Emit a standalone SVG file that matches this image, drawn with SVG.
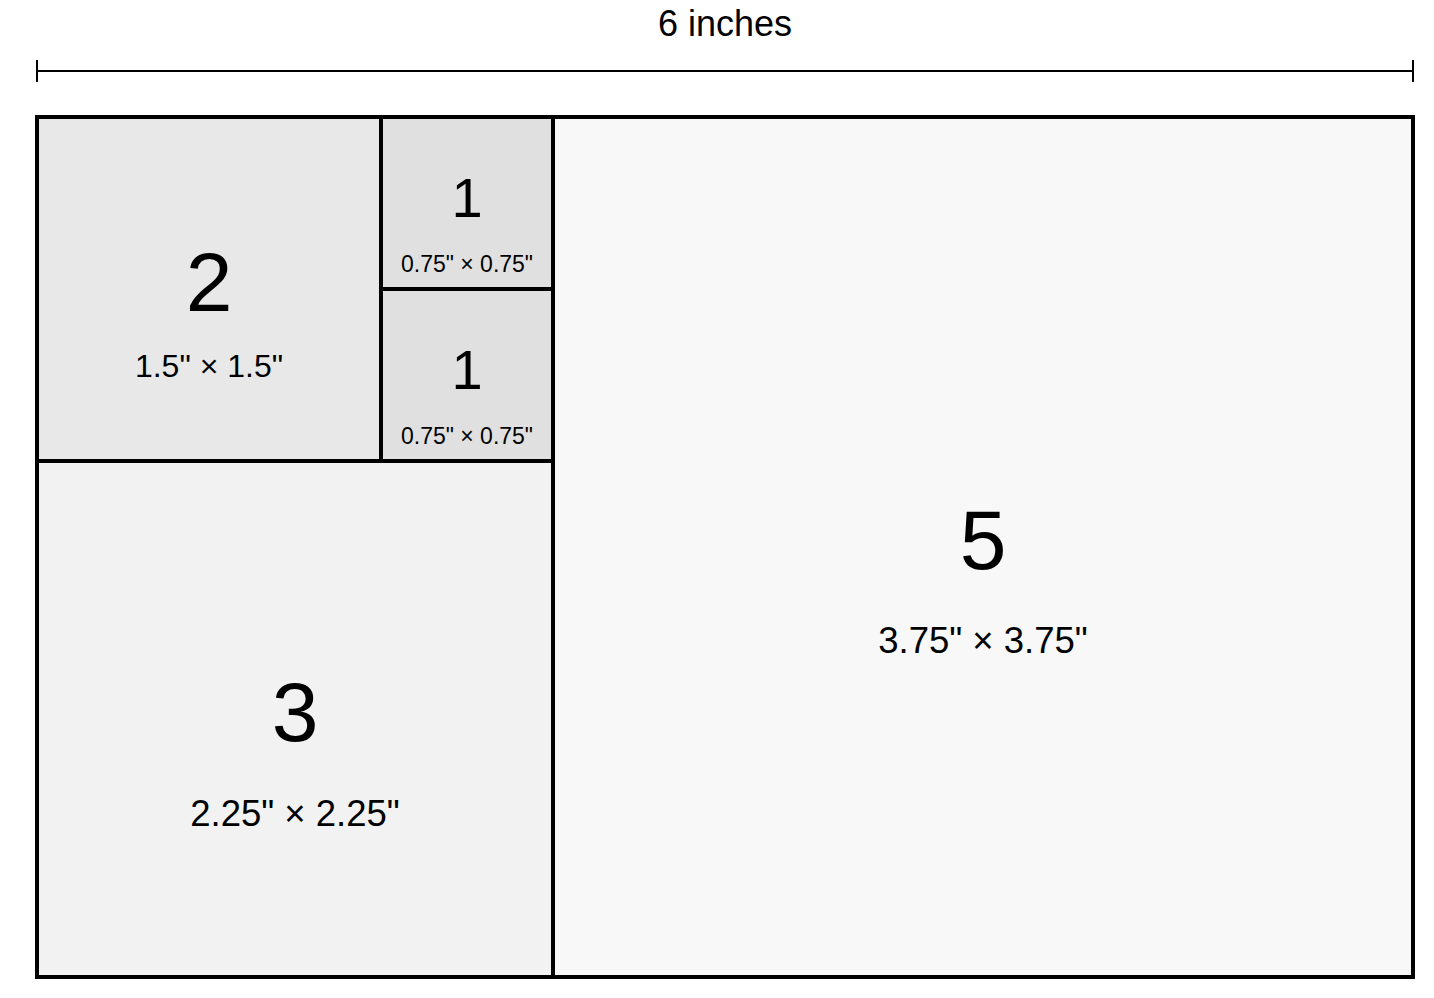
<svg xmlns="http://www.w3.org/2000/svg" width="1434" height="998" viewBox="0 0 1434 998">
<style>
.sq{stroke:#000;stroke-width:4}
.t{font-family:"Liberation Sans",Arial,sans-serif;fill:#000;text-anchor:middle}
.dim{stroke:#000;stroke-width:2;fill:none}
</style>
<rect width="1434" height="998" fill="#fff"/>
<g id="connectors">
<line class="dim" x1="37" y1="71" x2="1413" y2="71"/>
<line class="dim" x1="37" y1="60" x2="37" y2="82"/>
<line class="dim" x1="1413" y1="60" x2="1413" y2="82"/>
</g>
<g id="width-label"><text class="t" x="725" y="36" font-size="36">6 inches</text></g>
<g id="sq5">
<rect class="sq" x="553" y="117" width="860" height="860" fill="#f8f8f8"/>
<text class="t" x="983" y="569" font-size="84">5</text>
<text class="t" x="983" y="653" font-size="36.5">3.75" × 3.75"</text>
</g>
<g id="sq3">
<rect class="sq" x="37" y="461" width="516" height="516" fill="#f2f2f2"/>
<text class="t" x="295" y="741" font-size="84">3</text>
<text class="t" x="295" y="826" font-size="36.5">2.25" × 2.25"</text>
</g>
<g id="sq2">
<rect class="sq" x="37" y="117" width="344" height="344" fill="#e8e8e8"/>
<text class="t" x="209" y="311" font-size="84">2</text>
<text class="t" x="209" y="377" font-size="32">1.5" × 1.5"</text>
</g>
<g id="sq1a">
<rect class="sq" x="381" y="117" width="172" height="172" fill="#e0e0e0"/>
<text class="t" x="467" y="217" font-size="56">1</text>
<text class="t" x="467" y="272" font-size="23">0.75" × 0.75"</text>
</g>
<g id="sq1b">
<rect class="sq" x="381" y="289" width="172" height="172" fill="#e0e0e0"/>
<text class="t" x="467" y="389" font-size="56">1</text>
<text class="t" x="467" y="444" font-size="23">0.75" × 0.75"</text>
</g>
</svg>
